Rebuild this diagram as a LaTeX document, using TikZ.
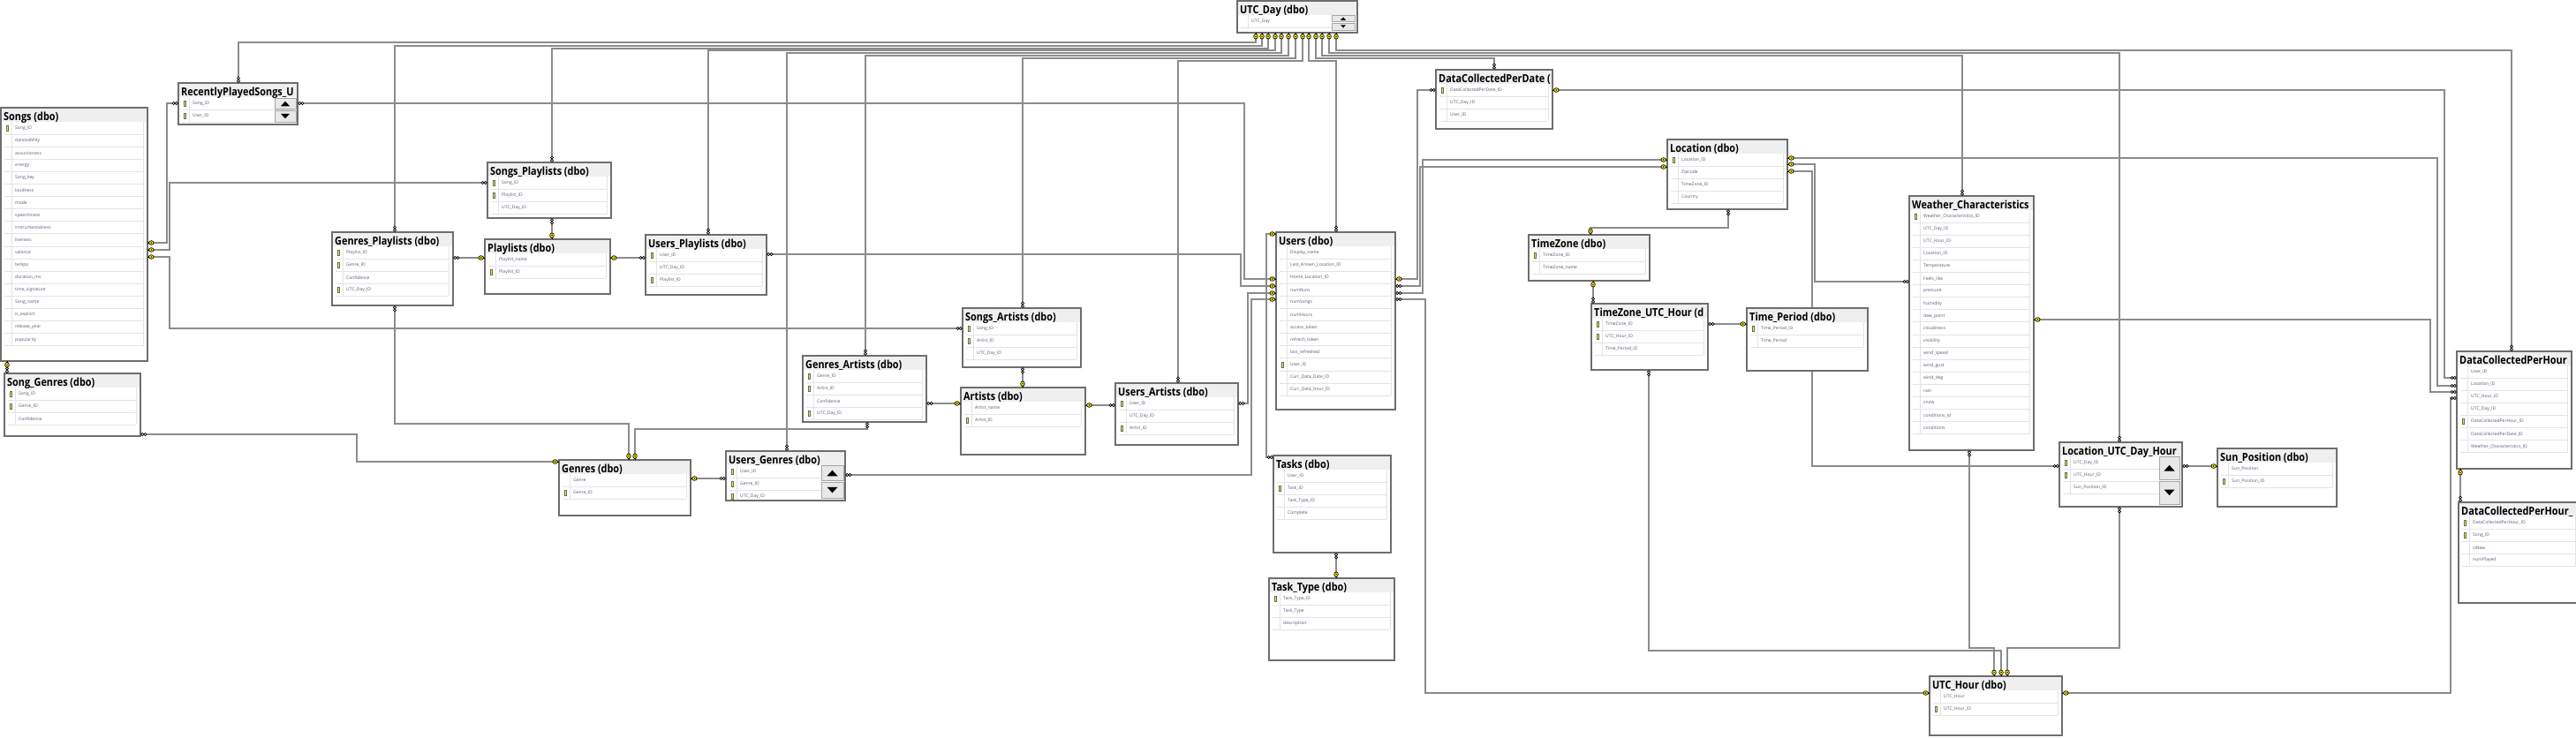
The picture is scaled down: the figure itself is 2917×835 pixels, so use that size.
\documentclass[tikz,border=0pt]{standalone}
\usepackage{fontspec}
\setmainfont{Open Sans}
\newfontfamily\ttlfont[FakeStretch=0.87]{Open Sans}
\pgfdeclarelayer{bg}
\pgfsetlayers{bg,main}
\definecolor{connc}{HTML}{8C8C8C}
\definecolor{boxc}{HTML}{6E6E6E}
\definecolor{hdrc}{HTML}{EFEFEF}
\definecolor{rowc}{HTML}{E4E4E4}
\definecolor{fldc}{HTML}{5A5A78}
\definecolor{keyc}{HTML}{FFF200}
\definecolor{scrf}{HTML}{E8E8E8}
\tikzset{
  conn/.style={draw=connc, line width=1.3},
  tbl/.style={fill=white, inner sep=0pt, outer sep=0pt, anchor=north west},
  ttl/.style={font=\ttlfont\bfseries\fontsize{12.5}{12.5}\selectfont, inner sep=0pt, text=black},
  fld/.style={font=\fontsize{5}{5}\selectfont, inner sep=0pt, text=fldc},
  pk/.pic={\draw[line width=0.7] (0,0)--(1.6,0);
           \draw[fill=keyc, line width=0.7] (4.3,0) ellipse (2.8pt and 2.3pt);
           \fill (4.3,0) circle (0.8pt);},
  fk/.pic={\draw[line width=0.7, fill=white] (2.2,0) circle (1.6pt) (5.4,0) circle (1.6pt);},
  pkE/.pic={\pic{pk};}, pkW/.pic={\pic[rotate=180]{pk};},
  pkN/.pic={\pic[rotate=90]{pk};}, pkS/.pic={\pic[rotate=-90]{pk};},
  fkE/.pic={\pic{fk};}, fkW/.pic={\pic[rotate=180]{fk};},
  fkN/.pic={\pic[rotate=90]{fk};}, fkS/.pic={\pic[rotate=-90]{fk};},
  rowkey/.pic={\draw[fill=keyc, draw=black!60, line width=0.4] (-1,-3.2) rectangle (1,3.2);}
}
\newcommand\dbt[7]{%
  \node[tbl, minimum width={#4pt-#2pt}, minimum height={#5pt-#3pt}] (#1) at (#2,#3) {};
  \begin{scope}
    \clip (#2,#3) rectangle (#4,#5);
    \fill[hdrc] (#2,#3) rectangle (#4,#3+16);
    \node[ttl, anchor=base west] (#1-t) at (#2+3,#3+14) {#6};
    \foreach \k/\f [count=\i] in {#7} {
      \pgfmathsetmacro\yy{#3+23+14.1*(\i-1)}
      \draw[rowc, line width=0.8] (#2+4,\yy+7) -- (#4-5,\yy+7);
      \node[fld, anchor=west] (#1-f\i) at (#2+16,\yy) {\f};
      \ifnum\k=1 \pic at (#2+7,\yy) {rowkey};\fi
      \xdef\lastyy{\yy}
    }
    \draw[rowc, line width=0.8] (#2+12,#3+16) -- (#2+12,\lastyy+7);
    \draw[rowc, line width=0.8] (#4-5,#3+16) -- (#4-5,\lastyy+7);
  \end{scope}
  \draw[boxc, line width=2] (#1.north west) rectangle (#1.south east);
}
\newcommand\scrl[5]{%
  \pgfmathsetmacro\sxm{(#1+#3)/2}
  \pgfmathsetmacro\sym{(#2+#4)/2}
  \draw[fill=scrf, draw=gray!70, line width=1] (#1,#2) rectangle (#3,\sym-1);
  \draw[fill=scrf, draw=gray!70, line width=1] (#1,\sym+1) rectangle (#3,#4);
  \pgfmathsetmacro\ua{(#2+\sym)/2}
  \pgfmathsetmacro\da{(\sym+#4)/2}
  \fill (\sxm-#5,\ua+#5*0.5) -- (\sxm+#5,\ua+#5*0.5) -- (\sxm,\ua-#5*0.6) -- cycle;
  \fill (\sxm-#5,\da-#5*0.5) -- (\sxm+#5,\da-#5*0.5) -- (\sxm,\da+#5*0.6) -- cycle;
}
\begin{document}
\begin{tikzpicture}[x=1pt,y=-1pt]
\begin{pgfonlayer}{bg}
\fill[white] (0,0) rectangle (2917,835);
\end{pgfonlayer}
\useasboundingbox (0,0) rectangle (2917,835);

% ---------------- tables ----------------
\dbt{utcday}{1401}{1}{1537}{37}{UTC\_Day (dbo)}{0/UTC\_Day}
\scrl{1508}{17}{1534}{34}{3}
\dbt{rps}{202}{94}{337}{141}{RecentlyPlayedSongs\_U}{1/Song\_ID,1/User\_ID}
\scrl{311}{111}{335}{138}{5}
\dbt{songs}{1}{122}{167}{409}{Songs (dbo)}{1/Song\_ID,0/danceability,0/acousticness,0/energy,0/Song\_key,0/loudness,0/mode,0/speechiness,0/instrumentalness,0/liveness,0/valence,0/tempo,0/duration\_ms,0/time\_signature,0/Song\_name,0/is\_explicit,0/release\_year,0/popularity}
\dbt{songgenres}{5}{423}{159}{494}{Song\_Genres (dbo)}{1/Song\_ID,1/Genre\_ID,0/Confidence}
\dbt{songsplaylists}{552}{184}{692}{247}{Songs\_Playlists (dbo)}{1/Song\_ID,1/Playlist\_ID,0/UTC\_Day\_ID}
\dbt{genresplaylists}{376}{263}{513}{346}{Genres\_Playlists (dbo)}{1/Playlist\_ID,1/Genre\_ID,0/Confidence,1/UTC\_Day\_ID}
\dbt{playlists}{549}{271}{691}{333}{Playlists (dbo)}{0/Playlist\_name,1/Playlist\_ID}
\dbt{usersplaylists}{731}{266}{868}{334}{Users\_Playlists (dbo)}{1/User\_ID,0/UTC\_Day\_ID,1/Playlist\_ID}
\dbt{genres}{633}{521}{782}{584}{Genres (dbo)}{0/Genre,1/Genre\_ID}
\dbt{usersgenres}{822}{511}{957}{567}{Users\_Genres (dbo)}{1/User\_ID,1/Genre\_ID,1/UTC\_Day\_ID}
\scrl{930}{527}{955}{564}{6}
\dbt{songsartists}{1090}{349}{1224}{416}{Songs\_Artists (dbo)}{1/Song\_ID,1/Artist\_ID,0/UTC\_Day\_ID}
\dbt{genresartists}{909}{403}{1049}{478}{Genres\_Artists (dbo)}{1/Genre\_ID,1/Artist\_ID,0/Confidence,1/UTC\_Day\_ID}
\dbt{artists}{1088}{439}{1229}{515}{Artists (dbo)}{0/Artist\_name,1/Artist\_ID}
\dbt{usersartists}{1263}{434}{1402}{504}{Users\_Artists (dbo)}{1/User\_ID,0/UTC\_Day\_ID,1/Artist\_ID}
\dbt{users}{1445}{263}{1580}{464}{Users (dbo)}{0/Display\_name,0/Last\_Known\_Location\_ID,0/Home\_Location\_ID,0/numRuns,0/numSongs,0/numHours,0/access\_token,0/refresh\_token,0/last\_refreshed,1/User\_ID,0/Curr\_Data\_Date\_ID,0/Curr\_Data\_Hour\_ID}
\dbt{tasks}{1442}{516}{1575}{626}{Tasks (dbo)}{0/User\_ID,1/Task\_ID,0/Task\_Type\_ID,0/Complete}
\dbt{tasktype}{1437}{655}{1579}{748}{Task\_Type (dbo)}{1/Task\_Type\_ID,0/Task\_Type,0/description}
\dbt{dcpd}{1626}{79}{1758}{146}{DataCollectedPerDate (}{1/DataCollectedPerDate\_ID,0/UTC\_Day\_ID,0/User\_ID}
\dbt{location}{1888}{158}{2024}{237}{Location (dbo)}{1/Location\_ID,0/Zipcode,0/TimeZone\_ID,0/Country}
\dbt{timezone}{1731}{266}{1868}{318}{TimeZone (dbo)}{1/TimeZone\_ID,0/TimeZone\_name}
\dbt{tzuh}{1802}{344}{1934}{419}{TimeZone\_UTC\_Hour (d}{1/TimeZone\_ID,1/UTC\_Hour\_ID,0/Time\_Period\_ID}
\dbt{timeperiod}{1978}{349}{2115}{420}{Time\_Period (dbo)}{1/Time\_Period\_ID,0/Time\_Period}
\dbt{weather}{2162}{222}{2303}{510}{Weather\_Characteristics}{1/Weather\_Characteristics\_ID,0/UTC\_Day\_ID,0/UTC\_Hour\_ID,0/Location\_ID,0/Temperature,0/Feels\_like,0/pressure,0/humidity,0/dew\_point,0/cloudiness,0/visibility,0/wind\_speed,0/wind\_gust,0/wind\_deg,0/rain,0/snow,0/conditions\_id,0/conditions}
\dbt{ludh}{2332}{501}{2471}{574}{Location\_UTC\_Day\_Hour}{1/UTC\_Day\_ID,1/UTC\_Hour\_ID,0/Sun\_Position\_ID}
\scrl{2445}{517}{2468}{571}{6}
\dbt{sunpos}{2511}{508}{2646}{574}{Sun\_Position (dbo)}{0/Sun\_Position,1/Sun\_Position\_ID}
\dbt{utchour}{2185}{766}{2335}{833}{UTC\_Hour (dbo)}{0/UTC\_Hour,1/UTC\_Hour\_ID}
\dbt{dcph}{2782}{398}{2912}{531}{DataCollectedPerHour}{0/User\_ID,0/Location\_ID,0/UTC\_Hour\_ID,0/UTC\_Day\_ID,1/DataCollectedPerHour\_ID,0/DataCollectedPerDate\_ID,0/Weather\_Characteristics\_ID}
\dbt{dcph2}{2784}{569}{2921}{683}{DataCollectedPerHour\_}{1/DataCollectedPerHour\_ID,1/Song\_ID,0/isNew,0/numPlayed}

% ---------------- connectors ----------------
\begin{pgfonlayer}{bg}
\foreach \kx/\yl/\tx/\tn in {1422/48/270/rps,1429/52/447/genresplaylists,1436/55/625/songsplaylists,1444/57/802/usersplaylists,1451/60/891/usersgenres,1459/63/980/genresartists,1467/66/1158/songsartists,1475/69/1334/usersartists,1482/69/1513/users,1490/66/1692/dcpd,1497/63/2222/weather,1505/60/2400/ludh,1513/57/2844/dcph}{
  \draw[conn] (\kx,0 |- utcday.south) -- (\kx,\yl) -| (\tx,0 |- \tn.north);
}
\draw[conn] (songs.east |- 0,275) -- (189,275) |- (rps.west |- 0,117);
\draw[conn] (songs.east |- 0,283) -- (192,283) |- (songsplaylists.west |- 0,207);
\draw[conn] (songs.east |- 0,291) -- (192,291) |- (songsartists.west |- 0,372);
\draw[conn] (8,0 |- songs.south) -- (8,0 |- songgenres.north);
\draw[conn] (songgenres.east |- 0,492) -- (404,492) |- (genres.west |- 0,523);
\draw[conn] (genresplaylists.east |- 0,292) -- (playlists.west |- 0,292);
\draw[conn] (447,0 |- genresplaylists.south) -- (447,480) -| (712,0 |- genres.north);
\draw[conn] (982,0 |- genresartists.south) -- (982,486) -| (719,0 |- genres.north);
\draw[conn] (625,0 |- songsplaylists.south) -- (625,0 |- playlists.north);
\draw[conn] (playlists.east |- 0,292) -- (usersplaylists.west |- 0,292);
\draw[conn] (genres.east |- 0,542) -- (usersgenres.west |- 0,542);
\draw[conn] (rps.east |- 0,117) -- (1409,117) |- (users.west |- 0,316);
\draw[conn] (usersplaylists.east |- 0,288) -- (1405,288) |- (users.west |- 0,324);
\draw[conn] (usersartists.east |- 0,457) -- (1413,457) |- (users.west |- 0,332);
\draw[conn] (usersgenres.east |- 0,538) -- (1417,538) |- (users.west |- 0,339);
\draw[conn] (users.west |- 0,265) -- (1434,265) |- (tasks.west |- 0,518);
\draw[conn] (1513,0 |- tasks.south) -- (1513,0 |- tasktype.north);
\draw[conn] (1158,0 |- songsartists.south) -- (1158,0 |- artists.north);
\draw[conn] (genresartists.east |- 0,457) -- (artists.west |- 0,457);
\draw[conn] (artists.east |- 0,459) -- (usersartists.west |- 0,459);
\draw[conn] (users.east |- 0,316) -- (1605,316) |- (dcpd.west |- 0,102);
\draw[conn] (users.east |- 0,324) -- (1608,324) |- (location.west |- 0,189);
\draw[conn] (users.east |- 0,332) -- (1611,332) |- (location.west |- 0,181);
\draw[conn] (users.east |- 0,339) -- (1614,339) |- (utchour.west |- 0,785);
\draw[conn] (dcpd.east |- 0,102) -- (2768,102) |- (dcph.west |- 0,428);
\draw[conn] (location.east |- 0,179) -- (2760,179) |- (dcph.west |- 0,437);
\draw[conn] (location.east |- 0,186) -- (2055,186) |- (weather.west |- 0,319);
\draw[conn] (location.east |- 0,194) -- (2052,194) |- (ludh.west |- 0,528);
\draw[conn] (1957,0 |- location.south) -- (1957,258) -| (1801,0 |- timezone.north);
\draw[conn] (1804,0 |- timezone.south) -- (1804,0 |- tzuh.north);
\draw[conn] (tzuh.east |- 0,367) -- (timeperiod.west |- 0,367);
\draw[conn] (1867,0 |- tzuh.south) -- (1867,737) -| (2266,0 |- utchour.north);
\draw[conn] (2230,0 |- weather.south) -- (2230,734) -| (2258,0 |- utchour.north);
\draw[conn] (2400,0 |- ludh.south) -- (2400,734) -| (2273,0 |- utchour.north);
\draw[conn] (weather.east |- 0,362) -- (2752,362) |- (dcph.west |- 0,444);
\draw[conn] (utchour.east |- 0,785) -- (2775,785) |- (dcph.west |- 0,451);
\draw[conn] (ludh.east |- 0,528) -- (sunpos.west |- 0,528);
\draw[conn] (2786,0 |- dcph.south) -- (2786,0 |- dcph2.north);
\end{pgfonlayer}

% ---------------- end markers ----------------
\foreach \kx/\tx/\tn in {1422/270/rps,1429/447/genresplaylists,1436/625/songsplaylists,1444/802/usersplaylists,1451/891/usersgenres,1459/980/genresartists,1467/1158/songsartists,1475/1334/usersartists,1482/1513/users,1490/1692/dcpd,1497/2222/weather,1505/2400/ludh,1513/2844/dcph}{
  \pic at (\kx,0 |- utcday.south) {pkS};
  \pic at (\tx,0 |- \tn.north) {fkN};
}
\pic at (songs.east |- 0,275) {pkE}; \pic at (rps.west |- 0,117) {fkW};
\pic at (songs.east |- 0,283) {pkE}; \pic at (songsplaylists.west |- 0,207) {fkW};
\pic at (songs.east |- 0,291) {pkE}; \pic at (songsartists.west |- 0,372) {fkW};
\pic at (8,0 |- songs.south) {pkS}; \pic at (8,0 |- songgenres.north) {fkN};
\pic at (songgenres.east |- 0,492) {fkE}; \pic at (genres.west |- 0,523) {pkW};
\pic at (genresplaylists.east |- 0,292) {fkE}; \pic at (playlists.west |- 0,292) {pkW};
\pic at (447,0 |- genresplaylists.south) {fkS}; \pic at (712,0 |- genres.north) {pkN};
\pic at (982,0 |- genresartists.south) {fkS}; \pic at (719,0 |- genres.north) {pkN};
\pic at (625,0 |- songsplaylists.south) {fkS}; \pic at (625,0 |- playlists.north) {pkN};
\pic at (playlists.east |- 0,292) {pkE}; \pic at (usersplaylists.west |- 0,292) {fkW};
\pic at (genres.east |- 0,542) {pkE}; \pic at (usersgenres.west |- 0,542) {fkW};
\pic at (rps.east |- 0,117) {fkE}; \pic at (users.west |- 0,316) {pkW};
\pic at (usersplaylists.east |- 0,288) {fkE}; \pic at (users.west |- 0,324) {pkW};
\pic at (usersartists.east |- 0,457) {fkE}; \pic at (users.west |- 0,332) {pkW};
\pic at (usersgenres.east |- 0,538) {fkE}; \pic at (users.west |- 0,339) {pkW};
\pic at (users.west |- 0,265) {pkW}; \pic at (tasks.west |- 0,518) {fkW};
\pic at (1513,0 |- tasks.south) {fkS}; \pic at (1513,0 |- tasktype.north) {pkN};
\pic at (1158,0 |- songsartists.south) {fkS}; \pic at (1158,0 |- artists.north) {pkN};
\pic at (genresartists.east |- 0,457) {fkE}; \pic at (artists.west |- 0,457) {pkW};
\pic at (artists.east |- 0,459) {pkE}; \pic at (usersartists.west |- 0,459) {fkW};
\pic at (users.east |- 0,316) {pkE}; \pic at (dcpd.west |- 0,102) {fkW};
\pic at (users.east |- 0,324) {fkE}; \pic at (location.west |- 0,189) {pkW};
\pic at (users.east |- 0,332) {fkE}; \pic at (location.west |- 0,181) {pkW};
\pic at (users.east |- 0,339) {fkE}; \pic at (utchour.west |- 0,785) {pkW};
\pic at (dcpd.east |- 0,102) {pkE}; \pic at (dcph.west |- 0,428) {fkW};
\pic at (location.east |- 0,179) {pkE}; \pic at (dcph.west |- 0,437) {fkW};
\pic at (location.east |- 0,186) {pkE}; \pic at (weather.west |- 0,319) {fkW};
\pic at (location.east |- 0,194) {pkE}; \pic at (ludh.west |- 0,528) {fkW};
\pic at (1957,0 |- location.south) {fkS}; \pic at (1801,0 |- timezone.north) {pkN};
\pic at (1804,0 |- timezone.south) {pkS}; \pic at (1804,0 |- tzuh.north) {fkN};
\pic at (tzuh.east |- 0,367) {fkE}; \pic at (timeperiod.west |- 0,367) {pkW};
\pic at (1867,0 |- tzuh.south) {fkS}; \pic at (2266,0 |- utchour.north) {pkN};
\pic at (2230,0 |- weather.south) {fkS}; \pic at (2258,0 |- utchour.north) {pkN};
\pic at (2400,0 |- ludh.south) {fkS}; \pic at (2273,0 |- utchour.north) {pkN};
\pic at (weather.east |- 0,362) {pkE}; \pic at (dcph.west |- 0,444) {fkW};
\pic at (utchour.east |- 0,785) {pkE}; \pic at (dcph.west |- 0,451) {fkW};
\pic at (ludh.east |- 0,528) {fkE}; \pic at (sunpos.west |- 0,528) {pkW};
\pic at (2786,0 |- dcph.south) {pkS}; \pic at (2786,0 |- dcph2.north) {fkN};
\end{tikzpicture}
\end{document}
